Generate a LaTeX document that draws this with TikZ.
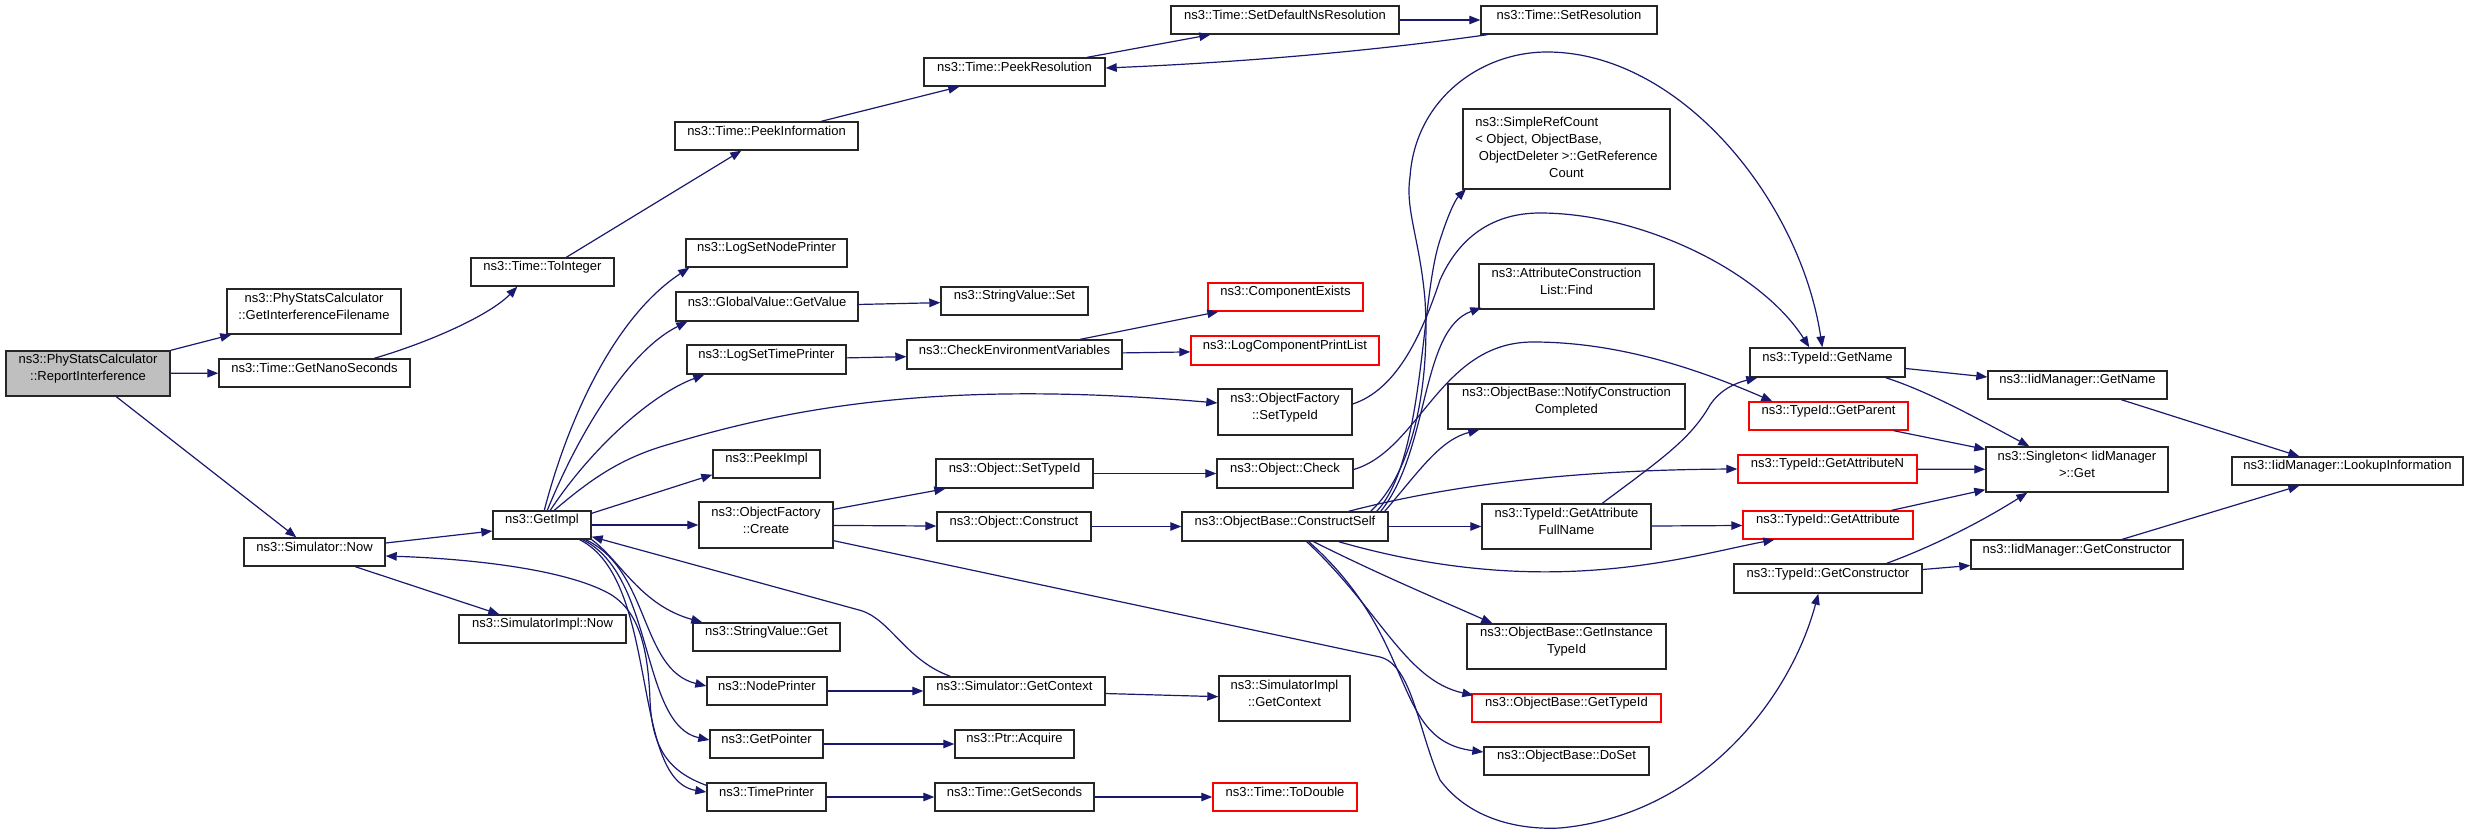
\documentclass[tikz,border=0pt]{standalone}
\usepackage{fontspec}
\setmainfont{Liberation Sans}
\usetikzlibrary{arrows.meta,fit}
\definecolor{edgecol}{HTML}{191970}
\definecolor{rootfill}{HTML}{BFBFBF}
\newcommand\bx[7]{\node[#6, fit={(#2,#3) (#4,#5)}] (#1) {#7};}
\begin{document}
\begin{tikzpicture}[x=1pt,y=-1pt,
  font=\fontsize{13}{17}\selectfont,
  box/.style={draw=black!85, line width=1.4pt, inner sep=0pt, align=center, fill=white},
  redbox/.style={box, draw=red},
  rootbox/.style={box, fill=rootfill},
  edge/.style={draw=edgecol, line width=1.2pt, -{Triangle[length=11pt,width=8.5pt]}},
]
\useasboundingbox[fill=white] (0,0) rectangle (2469,835);
% nodes
\bx{root}{6}{351}{170}{396}{rootbox}{ns3::PhyStatsCalculator\\::ReportInterference}
\bx{gif}{227}{289}{401}{334}{box}{ns3::PhyStatsCalculator\\::GetInterferenceFilename}
\bx{gns}{219}{359}{410}{387}{box}{ns3::Time::GetNanoSeconds}
\bx{snow}{244}{538}{385}{566}{box}{ns3::Simulator::Now}
\bx{gimpl}{493}{511}{591}{539}{box}{ns3::GetImpl}
\bx{sinow}{459}{615}{626}{643}{box}{ns3::SimulatorImpl::Now}
\bx{toint}{471}{258}{614}{286}{box}{ns3::Time::ToInteger}
\bx{pinfo}{675}{122}{858}{150}{box}{ns3::Time::PeekInformation}
\bx{pres}{924}{58}{1105}{86}{box}{ns3::Time::PeekResolution}
\bx{sdns}{1171}{6}{1399}{34}{box}{ns3::Time::SetDefaultNsResolution}
\bx{sres}{1481}{6}{1657}{34}{box}{ns3::Time::SetResolution}
\bx{lsnp}{686}{239}{847}{267}{box}{ns3::LogSetNodePrinter}
\bx{gvgv}{676}{292}{858}{321}{box}{ns3::GlobalValue::GetValue}
\bx{svset}{941}{287}{1088}{315}{box}{ns3::StringValue::Set}
\bx{cex}{1208}{283}{1363}{311}{redbox}{ns3::ComponentExists}
\bx{lstp}{687}{345}{846}{374}{box}{ns3::LogSetTimePrinter}
\bx{cev}{907}{340}{1122}{369}{box}{ns3::CheckEnvironmentVariables}
\bx{lcpl}{1191}{336}{1379}{365}{redbox}{ns3::LogComponentPrintList}
\bx{ofsti}{1218}{389}{1352}{435}{box}{ns3::ObjectFactory\\::SetTypeId}
\bx{peek}{713}{450}{820}{478}{box}{ns3::PeekImpl}
\bx{osti}{936}{459}{1093}{488}{box}{ns3::Object::SetTypeId}
\bx{ochk}{1217}{459}{1353}{488}{box}{ns3::Object::Check}
\bx{ofc}{699}{502}{833}{548}{box}{ns3::ObjectFactory\\::Create}
\bx{ocon}{937}{512}{1091}{541}{box}{ns3::Object::Construct}
\bx{cself}{1182}{512}{1388}{541}{box}{ns3::ObjectBase::ConstructSelf}
\bx{svget}{693}{623}{840}{651}{box}{ns3::StringValue::Get}
\bx{np}{707}{677}{827}{705}{box}{ns3::NodePrinter}
\bx{sgc}{924}{677}{1105}{705}{box}{ns3::Simulator::GetContext}
\bx{sigc}{1219}{676}{1350}{721}{box}{ns3::SimulatorImpl\\::GetContext}
\bx{gptr}{710}{730}{823}{758}{box}{ns3::GetPointer}
\bx{pacq}{955}{730}{1074}{758}{box}{ns3::Ptr::Acquire}
\bx{tp}{707}{783}{826}{811}{box}{ns3::TimePrinter}
\bx{gsec}{935}{783}{1094}{811}{box}{ns3::Time::GetSeconds}
\bx{todbl}{1213}{783}{1357}{811}{redbox}{ns3::Time::ToDouble}
\node[box, outer sep=0pt, minimum width=207pt, minimum height=80pt] (src) at (1566.5,149)
  {\begin{tabular}{@{}l@{}}ns3::SimpleRefCount\\< Object, ObjectBase,\\\ ObjectDeleter >::GetReference\\\multicolumn{1}{@{}c@{}}{Count}\end{tabular}};
\bx{acl}{1479}{264}{1654}{309}{box}{ns3::AttributeConstruction\\List::Find}
\bx{ncc}{1448}{384}{1685}{429}{box}{ns3::ObjectBase::NotifyConstruction\\Completed}
\bx{gafn}{1482}{504}{1651}{549}{box}{ns3::TypeId::GetAttribute\\FullName}
\bx{git}{1467}{624}{1666}{669}{box}{ns3::ObjectBase::GetInstance\\TypeId}
\bx{obgt}{1472}{694}{1661}{722}{redbox}{ns3::ObjectBase::GetTypeId}
\bx{doset}{1484}{747}{1649}{775}{box}{ns3::ObjectBase::DoSet}
\bx{tgn}{1750}{348}{1905}{377}{box}{ns3::TypeId::GetName}
\bx{tgp}{1749}{402}{1908}{430}{redbox}{ns3::TypeId::GetParent}
\bx{tgan}{1738}{455}{1917}{483}{redbox}{ns3::TypeId::GetAttributeN}
\bx{tga}{1743}{511}{1913}{539}{redbox}{ns3::TypeId::GetAttribute}
\bx{tgc}{1734}{564}{1922}{593}{box}{ns3::TypeId::GetConstructor}
\bx{ign}{1988}{371}{2167}{399}{box}{ns3::IidManager::GetName}
\bx{sing}{1986}{447}{2168}{492}{box}{ns3::Singleton< IidManager\\>::Get}
\bx{igc}{1971}{540}{2183}{569}{box}{ns3::IidManager::GetConstructor}
\bx{look}{2232}{457}{2463}{485}{box}{ns3::IidManager::LookupInformation}
% edges
\draw[edge] (root.north east) -- ([xshift=5pt]gif.south west);
\draw[edge] (root) -- (gns);
\draw[edge] ([xshift=111pt]root.south west) -- ([xshift=53pt]snow.north west);
\draw[edge] ([xshift=156pt]gns.north west) .. controls (430,342) and (490,315) .. ([xshift=47pt]toint.south west);
\draw[edge] ([xshift=96pt]toint.north west) -- ([xshift=67pt]pinfo.south west);
\draw[edge] ([xshift=147pt]pinfo.north west) -- ([xshift=36pt]pres.south west);
\draw[edge] ([xshift=164pt]pres.north west) -- ([xshift=40pt]sdns.south west);
\draw[edge] (sdns) -- (sres);
\draw[edge] ([xshift=7pt]sres.south west) .. controls (1380,50) and (1250,62) .. ([yshift=4pt]pres.east);
\draw[edge] ([yshift=9pt]snow.east) -- ([yshift=-6pt]gimpl.west);
\draw[edge] ([yshift=-3pt]tp.north west) .. controls (670,772) and (652,750) .. (650,700)
  .. controls (648,650) and (640,612) .. (610,594) .. controls (560,566) and (450,558) .. ([yshift=-4pt]snow.east);
\draw[edge] ([xshift=52pt]gimpl.north west) .. controls (565,430) and (610,320) .. ([xshift=4pt]lsnp.south west);
\draw[edge] ([xshift=55pt]gimpl.north west) .. controls (580,430) and (630,350) .. ([xshift=12pt]gvgv.south west);
\draw[edge] ([xshift=58pt]gimpl.north west) .. controls (590,450) and (650,395) .. ([xshift=18pt]lstp.south west);
\draw[edge] ([xshift=62pt]gimpl.north west) .. controls (590,480) and (620,458) .. (670,444)
  .. controls (800,405) and (950,380) .. ([yshift=9pt]ofsti.west);
\draw[edge] ([yshift=-3pt]gimpl.north east) -- ([yshift=4pt]peek.south west);
\draw[edge] (gimpl) -- (ofc);
\draw[edge] (gimpl.south east) .. controls (620,560) and (640,605) .. ([xshift=10pt]svget.north west);
\draw[edge] ([xshift=-6pt]gimpl.south east) .. controls (650,570) and (640,670) .. ([yshift=5pt]np.west);
\draw[edge] ([xshift=-9pt]gimpl.south east) .. controls (655,575) and (640,725) .. ([yshift=4pt]gptr.west);
\draw[edge] ([xshift=-12pt]gimpl.south east) .. controls (660,580) and (630,780) .. ([yshift=5pt]tp.west);
\draw[edge] ([xshift=27pt]sgc.north west) .. controls (905,660) and (890,618) .. (859,610) -- ([yshift=3pt]gimpl.south east);
\draw[edge] (gvgv) -- (svset);
\draw[edge] (lstp) -- (cev);
\draw[edge] ([xshift=174pt]cev.north west) -- ([xshift=11pt]cex.south west);
\draw[edge] (cev) -- (lcpl);
\draw[edge] ([yshift=-8pt]ofc.north east) -- ([xshift=10pt]osti.south west);
\draw[edge] (ofc) -- (ocon);
\draw[edge] ([yshift=8pt]ofc.south east) -- (1380,657) .. controls (1412,665) and (1418,730) .. (1440,780)
  .. controls (1470,820) and (1520,830) .. (1560,828) .. controls (1700,815) and (1790,700) .. ([xshift=85pt]tgc.south west);
\draw[edge] (osti) -- (ochk);
\draw[edge] (ocon) -- (cself);
\draw[edge] ([yshift=4pt]ochk.east) .. controls (1420,450) and (1440,342) .. (1533,342)
  .. controls (1620,342) and (1700,370) .. ([xshift=24pt]tgp.north west);
\draw[edge] ([yshift=8pt]ofsti.east) .. controls (1395,390) and (1420,340) .. (1440,280)
  .. controls (1460,235) and (1495,213) .. (1540,213) .. controls (1640,213) and (1760,270) .. ([xshift=60pt]tgn.north west);
\draw[edge] ([xshift=-18pt]cself.north east) .. controls (1415,470) and (1430,380) .. (1425,300)
  .. controls (1420,240) and (1405,210) .. (1410,177) .. controls (1415,100) and (1480,52) .. (1547,52)
  .. controls (1680,52) and (1800,200) .. ([xshift=73pt]tgn.north west);
\draw[edge] ([xshift=-12pt]cself.north east) .. controls (1425,460) and (1420,300) .. (1440,240)
  .. controls (1448,215) and (1455,200) .. ([xshift=3pt]src.south west);
\draw[edge] ([xshift=-8pt]cself.north east) .. controls (1430,450) and (1420,330) .. ([xshift=3pt,yshift=2pt]acl.south west);
\draw[edge] ([xshift=-4pt]cself.north east) .. controls (1420,470) and (1440,440) .. ([xshift=32pt]ncc.south west);
\draw[edge] ([xshift=-40pt]cself.north east) .. controls (1430,490) and (1550,470) .. (tgan.west);
\draw[edge] (cself) -- (gafn);
\draw[edge] ([xshift=-50pt]cself.south east) .. controls (1420,565) and (1500,575) .. (1579,571)
  .. controls (1660,567) and (1720,550) .. ([xshift=32pt]tga.south west);
\draw[edge] ([xshift=-75pt]cself.south east) .. controls (1380,575) and (1440,600) .. ([xshift=26pt]git.north west);
\draw[edge] ([xshift=-82pt]cself.south east) .. controls (1380,610) and (1405,680) .. ([xshift=2pt,yshift=-2pt]obgt.north west);
\draw[edge] ([xshift=-80pt]cself.south east) .. controls (1420,640) and (1390,740) .. ([yshift=9pt]doset.west);
\draw[edge] (gafn) -- (tga);
\draw[edge] ([xshift=121pt]gafn.north west) .. controls (1660,460) and (1690,440) .. (1710,405)
  .. controls (1720,390) and (1735,383) .. ([xshift=8pt]tgn.south west);
\draw[edge] ([yshift=-6pt]tgn.east) -- ([yshift=8pt]ign.west);
\draw[edge] ([xshift=-20pt]tgn.south east) .. controls (1930,392) and (1980,420) .. ([xshift=44pt]sing.north west);
\draw[edge] ([xshift=-15pt]tgp.south east) -- ([yshift=-3pt]sing.north west);
\draw[edge] (tgan) -- (sing);
\draw[edge] ([xshift=-22pt]tga.north east) -- ([yshift=3pt]sing.south west);
\draw[edge] ([xshift=-36pt]tgc.north east) .. controls (1950,540) and (2000,510) .. ([xshift=42pt]sing.south west);
\draw[edge] ([yshift=9pt]tgc.east) -- ([yshift=-11pt]igc.west);
\draw[edge] ([xshift=134pt]ign.south west) -- ([xshift=68pt]look.north west);
\draw[edge] ([xshift=152pt]igc.north west) -- ([xshift=68pt]look.south west);
\draw[edge] (np) -- (sgc);
\draw[edge] (sgc) -- (sigc);
\draw[edge] (gptr) -- (pacq);
\draw[edge] (tp) -- (gsec);
\draw[edge] (gsec) -- (todbl);
\draw[edge] ([xshift=112pt]snow.south west) -- ([xshift=41pt]sinow.north west);
\end{tikzpicture}
\end{document}
